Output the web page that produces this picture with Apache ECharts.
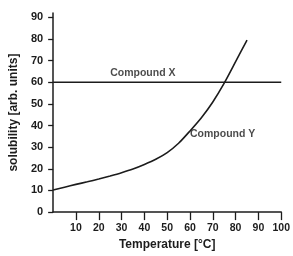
<!DOCTYPE html>
<html>
<head>
<meta charset="utf-8">
<script src="https://cdn.jsdelivr.net/npm/echarts@6/dist/echarts.min.js"></script>
<style>
  html, body { margin: 0; padding: 0; background: #fff; }
  #chart { width: 293px; height: 256px; }
</style>
</head>
<body>
<div id="chart"></div>
<script>
// tick labels
const xTicks = [10, 20, 30, 40, 50, 60, 70, 80, 90, 100];
const yTicks = [0, 10, 20, 30, 40, 50, 60, 70, 80, 90];

// Compound X: constant solubility
const xTemps = [0, 100];
const xValues = [60, 60];

// Compound Y: rising solubility
const yTemps = [0, 5, 10, 15, 20, 25, 30, 35, 40, 45, 50, 55, 60, 65, 70, 75, 80, 85];
const yValues = [10.2, 11.5, 12.8, 14.0, 15.3, 16.7, 18.2, 19.9, 22.0, 24.4, 27.5, 31.8, 37.5, 43.6, 50.9, 59.6, 69.5, 79.5];

// curve labels: [temperature, solubility, text]
const curveLabels = [
    [25, 64, 'Compound X'],
    [60, 36, 'Compound Y']
];

const ink = '#1c1c1c';
const font = '"Liberation Sans", Arial, sans-serif';

function zip(a, b) {
    return a.map((v, i) => [v, b[i]]);
}

const chart = echarts.init(document.getElementById('chart'));

chart.setOption({
    animation: false,
    backgroundColor: '#fff',
    grid: { left: 53, right: 11, top: 13, bottom: 36 },
    xAxis: {
        type: 'value',
        min: 0,
        max: 100,
        name: 'Temperature [°C]',
        nameLocation: 'middle',
        nameGap: 22,
        nameTextStyle: { color: ink, fontFamily: font, fontWeight: 'bold', fontSize: 12 },
        axisLine: { onZero: false, lineStyle: { color: ink, width: 1.5 } },
        axisTick: { show: true, length: 8, customValues: xTicks, lineStyle: { color: ink, width: 1.3 } },
        axisLabel: { customValues: xTicks, margin: 11, color: ink, fontFamily: font, fontWeight: 'bold', fontSize: 10.5 },
        splitLine: { show: false }
    },
    yAxis: {
        type: 'value',
        min: 0,
        max: 92,
        name: 'solubility [arb. units]',
        nameLocation: 'middle',
        nameGap: 30,
        nameTextStyle: { color: ink, fontFamily: font, fontWeight: 'bold', fontSize: 12 },
        axisLine: { show: true, lineStyle: { color: ink, width: 1.5 } },
        axisTick: { show: true, length: 5, customValues: yTicks, lineStyle: { color: ink, width: 1.3 } },
        axisLabel: { customValues: yTicks, margin: 10, color: ink, fontFamily: font, fontWeight: 'bold', fontSize: 11 },
        splitLine: { show: false }
    },
    series: [
        {
            name: 'Compound X',
            type: 'line',
            data: zip(xTemps, xValues),
            symbol: 'none',
            lineStyle: { color: ink, width: 1.5 }
        },
        {
            name: 'Compound Y',
            type: 'line',
            data: zip(yTemps, yValues),
            symbol: 'none',
            smooth: 0.25,
            lineStyle: { color: ink, width: 1.6 }
        },
        {
            name: 'labels',
            type: 'scatter',
            data: curveLabels,
            symbolSize: 0,
            label: {
                show: true,
                position: 'right',
                distance: 0,
                formatter: p => p.value[2],
                color: ink,
                fontFamily: font,
                fontWeight: 'bold',
                fontSize: 10.5
            }
        }
    ]
});
</script>
</body>
</html>
